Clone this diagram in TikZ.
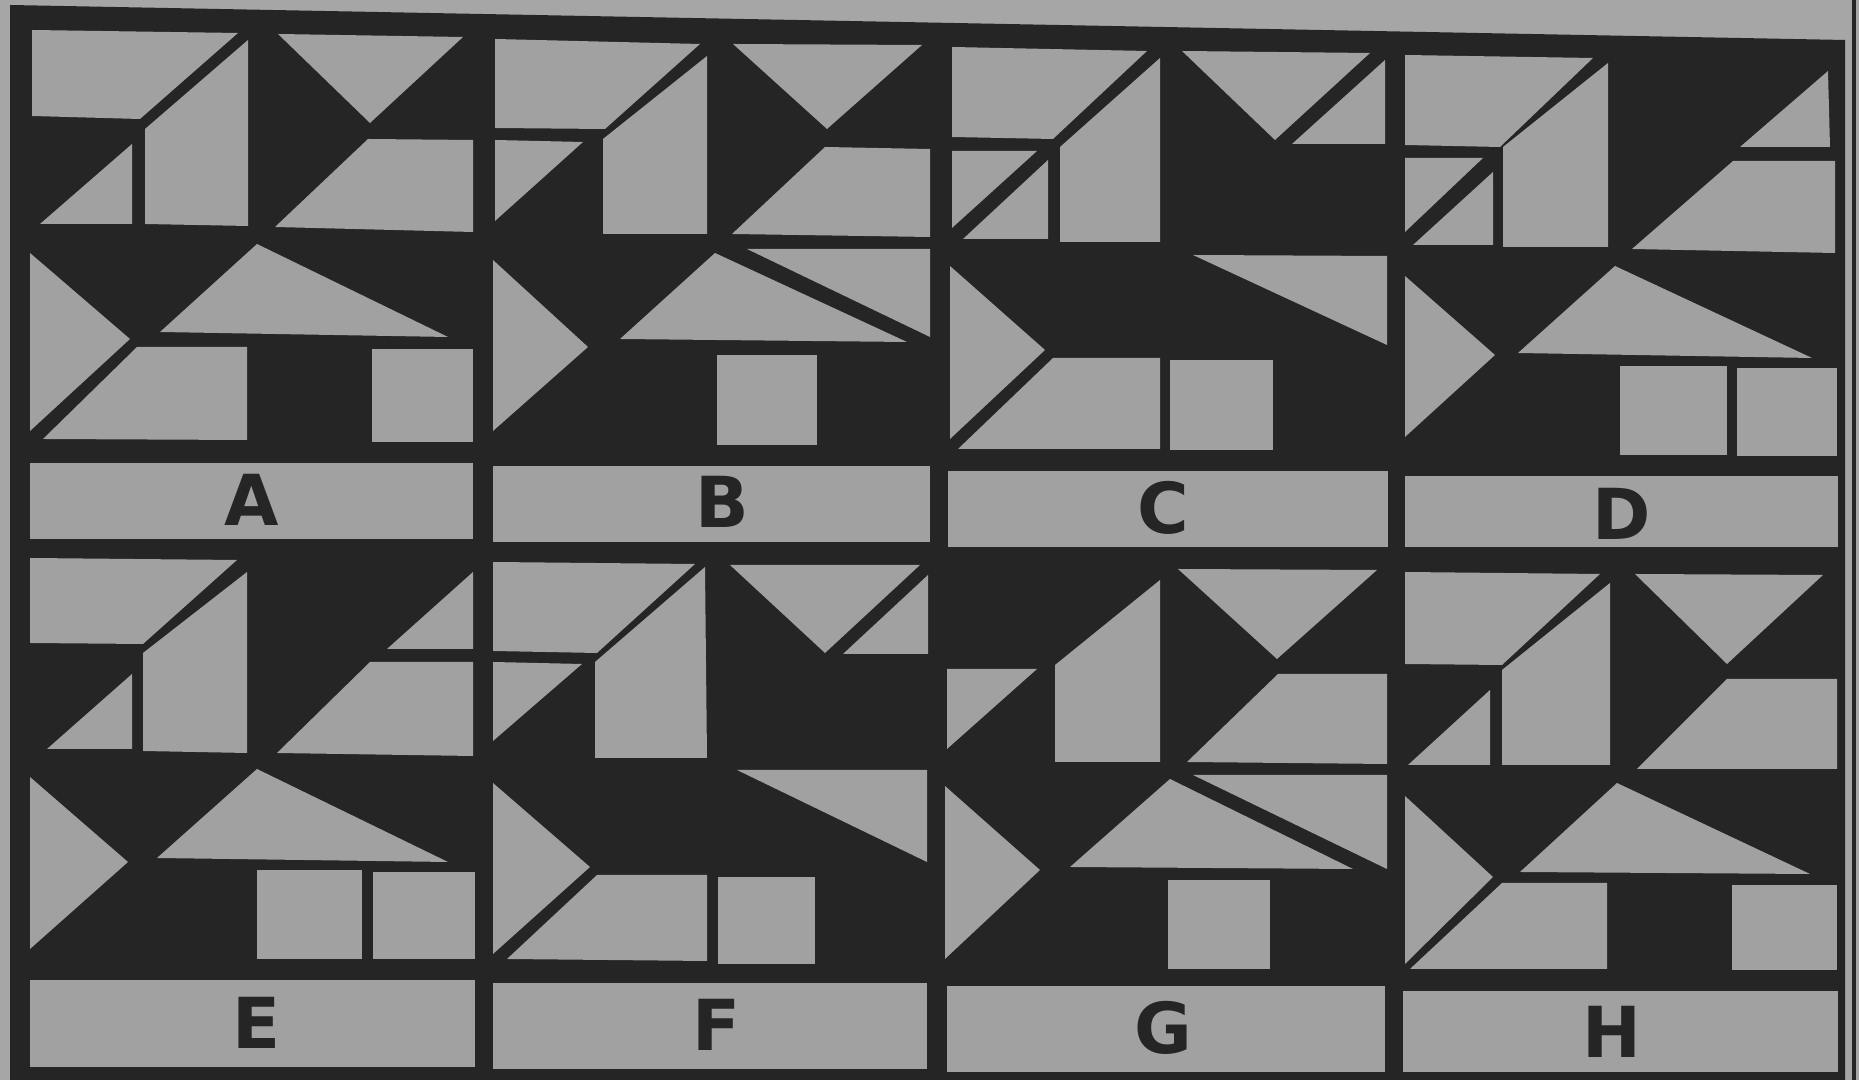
\documentclass[tikz,border=0pt]{standalone}
\usepackage{fontspec}
\setsansfont{DejaVu Sans}
\definecolor{cpaper}{HTML}{A6A6A6}
\definecolor{cpiece}{HTML}{A1A1A1}
\definecolor{cink}{HTML}{252525}
\tikzset{
  every picture/.style={x=0.01cm, y=-0.01cm},
  piece/.style={fill=cpiece},
  letter/.style={font=\sffamily\bfseries\fontsize{20}{24}\selectfont, text=cink, inner sep=0pt},
}
\begin{document}
\begin{tikzpicture}
  \useasboundingbox (0,0) rectangle (1859,1080);
  \fill[cpaper] (0,0) rectangle (1859,1080);
  \fill[cink] (10,5) -- (1845,40) -- (1845,1080) -- (10,1080) -- cycle;
  \draw[cink, line width=1.4pt] (1854,0) -- (1854,1080);
  % panel A
  \fill[piece] (32,30) -- (238,33) -- (140,119) -- (32,116) -- cycle;
  \fill[piece] (145,129) -- (248,40) -- (248,226) -- (145,224) -- cycle;
  \fill[piece] (40,224) -- (132,144) -- (132,224) -- cycle;
  \fill[piece] (278,34) -- (463,37) -- (370,123) -- cycle;
  \fill[piece] (275,227) -- (368,139) -- (473,140) -- (473,232) -- cycle;
  \fill[piece] (30,253) -- (130,339) -- (30,431) -- cycle;
  \fill[piece] (160,332) -- (257,244) -- (448,337) -- cycle;
  \fill[piece] (43,439) -- (137,347) -- (247,347) -- (247,440) -- cycle;
  \fill[piece] (372,349) rectangle (473,442);
  \fill[piece] (30,463) rectangle (473,539);
  % panel B
  \fill[piece] (495,39) -- (700,44) -- (605,129) -- (495,128) -- cycle;
  \fill[piece] (495,140) -- (583,142) -- (495,221) -- cycle;
  \fill[piece] (603,139) -- (707,56) -- (707,234) -- (603,234) -- cycle;
  \fill[piece] (733,44) -- (922,45) -- (827,129) -- cycle;
  \fill[piece] (732,234) -- (825,147) -- (930,149) -- (930,237) -- cycle;
  \fill[piece] (747,249) -- (930,249) -- (930,337) -- cycle;
  \fill[piece] (620,339) -- (715,253) -- (907,342) -- cycle;
  \fill[piece] (493,260) -- (588,347) -- (493,431) -- cycle;
  \fill[piece] (717,355) rectangle (817,445);
  \fill[piece] (493,466) rectangle (930,542);
  % panel C
  \fill[piece] (952,47) -- (1147,51) -- (1053,139) -- (952,137) -- cycle;
  \fill[piece] (952,151) -- (1037,151) -- (952,228) -- cycle;
  \fill[piece] (963,239) -- (1048,160) -- (1048,239) -- cycle;
  \fill[piece] (1060,147) -- (1160,58) -- (1160,242) -- (1060,242) -- cycle;
  \fill[piece] (1182,51) -- (1370,53) -- (1275,140) -- cycle;
  \fill[piece] (1292,144) -- (1385,60) -- (1385,144) -- cycle;
  \fill[piece] (1193,255) -- (1387,256) -- (1387,345) -- cycle;
  \fill[piece] (950,266) -- (1045,350) -- (950,439) -- cycle;
  \fill[piece] (958,449) -- (1053,358) -- (1160,358) -- (1160,449) -- cycle;
  \fill[piece] (1170,360) rectangle (1273,450);
  \fill[piece] (948,471) rectangle (1388,547);
  % panel D
  \fill[piece] (1405,55) -- (1593,58) -- (1500,147) -- (1405,145) -- cycle;
  \fill[piece] (1405,158) -- (1483,158) -- (1405,232) -- cycle;
  \fill[piece] (1413,245) -- (1493,172) -- (1493,245) -- cycle;
  \fill[piece] (1503,147) -- (1608,63) -- (1608,247) -- (1503,247) -- cycle;
  \fill[piece] (1740,147) -- (1828,71) -- (1830,147) -- cycle;
  \fill[piece] (1632,249) -- (1733,161) -- (1835,161) -- (1835,253) -- cycle;
  \fill[piece] (1405,276) -- (1495,355) -- (1405,437) -- cycle;
  \fill[piece] (1518,353) -- (1615,266) -- (1812,358) -- cycle;
  \fill[piece] (1620,366) rectangle (1727,455);
  \fill[piece] (1737,368) rectangle (1837,456);
  \fill[piece] (1405,476) rectangle (1838,547);
  % panel E
  \fill[piece] (30,558) -- (237,560) -- (143,644) -- (30,643) -- cycle;
  \fill[piece] (47,749) -- (132,674) -- (132,749) -- cycle;
  \fill[piece] (143,653) -- (247,572) -- (247,753) -- (143,751) -- cycle;
  \fill[piece] (387,649) -- (473,572) -- (473,649) -- cycle;
  \fill[piece] (277,753) -- (370,662) -- (473,662) -- (473,756) -- cycle;
  \fill[piece] (30,777) -- (128,862) -- (30,949) -- cycle;
  \fill[piece] (157,858) -- (257,769) -- (448,862) -- cycle;
  \fill[piece] (257,870) rectangle (362,959);
  \fill[piece] (373,872) rectangle (475,959);
  \fill[piece] (30,980) rectangle (475,1067);
  % panel F
  \fill[piece] (493,562) -- (695,564) -- (597,653) -- (493,651) -- cycle;
  \fill[piece] (493,662) -- (582,664) -- (493,741) -- cycle;
  \fill[piece] (595,662) -- (705,567) -- (707,758) -- (595,758) -- cycle;
  \fill[piece] (730,565) -- (920,565) -- (825,653) -- cycle;
  \fill[piece] (843,654) -- (928,575) -- (928,654) -- cycle;
  \fill[piece] (737,770) -- (927,770) -- (927,862) -- cycle;
  \fill[piece] (493,783) -- (590,867) -- (493,954) -- cycle;
  \fill[piece] (507,959) -- (597,875) -- (707,875) -- (707,961) -- cycle;
  \fill[piece] (718,877) rectangle (815,964);
  \fill[piece] (493,983) rectangle (927,1069);
  % panel G
  \fill[piece] (947,669) -- (1037,669) -- (947,749) -- cycle;
  \fill[piece] (1055,665) -- (1160,580) -- (1160,762) -- (1055,762) -- cycle;
  \fill[piece] (1178,569) -- (1377,570) -- (1277,659) -- cycle;
  \fill[piece] (1187,762) -- (1278,674) -- (1387,674) -- (1387,764) -- cycle;
  \fill[piece] (1193,775) -- (1387,775) -- (1387,869) -- cycle;
  \fill[piece] (1070,867) -- (1170,779) -- (1353,869) -- cycle;
  \fill[piece] (945,786) -- (1040,870) -- (945,959) -- cycle;
  \fill[piece] (1168,880) rectangle (1270,969);
  \fill[piece] (947,986) rectangle (1385,1072);
  % panel H
  \fill[piece] (1405,572) -- (1600,574) -- (1502,665) -- (1405,664) -- cycle;
  \fill[piece] (1408,765) -- (1490,690) -- (1490,765) -- cycle;
  \fill[piece] (1502,670) -- (1610,583) -- (1610,765) -- (1502,765) -- cycle;
  \fill[piece] (1635,574) -- (1823,575) -- (1727,664) -- cycle;
  \fill[piece] (1637,769) -- (1727,679) -- (1837,679) -- (1837,769) -- cycle;
  \fill[piece] (1405,796) -- (1493,877) -- (1405,964) -- cycle;
  \fill[piece] (1520,872) -- (1617,783) -- (1810,874) -- cycle;
  \fill[piece] (1410,969) -- (1502,883) -- (1607,883) -- (1607,969) -- cycle;
  \fill[piece] (1732,885) rectangle (1837,970);
  \fill[piece] (1403,991) rectangle (1838,1072);
  % letters
  \foreach \n/\x/\y in {A/252/500, B/722/502, C/1163/508, D/1622/514,
                        E/257/1023, F/717/1025, G/1163/1028, H/1612/1032}
    \node[letter] (lbl\n) at (\x,\y) {\n};
\end{tikzpicture}
\end{document}
